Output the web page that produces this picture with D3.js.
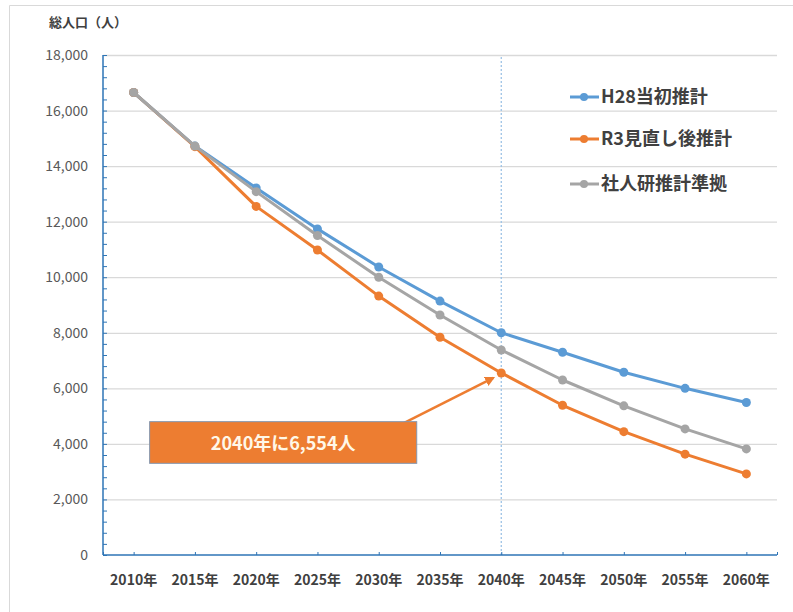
<!DOCTYPE html>
<html>
<head>
<meta charset="utf-8">
<script src="https://cdn.jsdelivr.net/npm/d3@7"></script>
<style>
  body { margin: 0; background: #fff; }
  svg { display: block; font-family: "Noto Sans CJK JP", "Noto Sans", sans-serif; }
</style>
</head>
<body>
<svg width="793" height="612"></svg>
<script>
var years = ['2010年','2015年','2020年','2025年','2030年','2035年','2040年','2045年','2050年','2055年','2060年'];
var h28 = [16650, 14720, 13210, 11740, 10370, 9140, 8000, 7300, 6580, 6000, 5490];
var r3 = [16650, 14700, 12550, 10980, 9320, 7840, 6554, 5390, 4440, 3630, 2920];
var ipss = [16650, 14720, 13080, 11500, 10000, 8640, 7380, 6300, 5370, 4540, 3820];
var yTicks = [0, 2000, 4000, 6000, 8000, 10000, 12000, 14000, 16000, 18000];
var seriesNames = ['H28当初推計', 'R3見直し後推計', '社人研推計準拠'];
var seriesColors = ['#5B9BD5', '#ED7D31', '#A5A5A5'];

var series = [h28, r3, ipss];

const plotL = 103, plotR = 777, plotT = 55, plotB = 555;
const svg = d3.select('svg');

// outer frame (top and left edges visible)
svg.append('path')
  .attr('d', 'M9.5,612 L9.5,5.5 L793,5.5')
  .attr('fill', 'none')
  .attr('stroke', '#d9d9d9');

const xScale = d3.scaleBand()
  .range([plotL, plotR])
  .domain(years);
const xPos = (d) => xScale(d) + xScale.bandwidth() / 2;

const yScale = d3.scaleLinear()
  .range([plotB, plotT])
  .domain([0, 18000]);

// grid
svg.append('g')
  .attr('transform', `translate(${plotL}, 0)`)
  .call(d3.axisLeft(yScale).tickValues(yTicks.slice(1)).tickSize(-(plotR - plotL)).tickFormat(''))
  .call(g => g.select('.domain').remove())
  .selectAll('line').attr('stroke', '#d9d9d9').attr('stroke-width', 1.3);

// dotted line at 2040
svg.append('line')
  .attr('x1', xPos('2040年')).attr('x2', xPos('2040年'))
  .attr('y1', yScale(18000) + 2).attr('y2', plotB)
  .attr('stroke', '#9DC3E6')
  .attr('stroke-width', 1.3)
  .attr('stroke-dasharray', '2,2');

// y axis
const yAxis = svg.append('g')
  .attr('transform', `translate(${plotL}, 0)`)
  .call(d3.axisRight(yScale).tickValues(d3.range(0, 18001, 400)).tickSize(4).tickFormat(''));
yAxis.select('.domain').attr('stroke', '#2E75B6').attr('stroke-width', 1.5).attr('d', `M0,${plotT}V${plotB}`);
yAxis.selectAll('line').attr('stroke', '#2E75B6');

svg.append('g')
  .selectAll('text')
  .data(yTicks)
  .enter()
  .append('text')
  .attr('x', 88)
  .attr('y', (d) => yScale(d) + 5)
  .attr('text-anchor', 'end')
  .attr('font-size', 14)
  .attr('fill', '#595959')
  .text((d) => d3.format(',')(d));

// x axis
const xAxis = svg.append('g')
  .attr('transform', `translate(0, ${plotB})`)
  .call(d3.axisTop(d3.scalePoint().range([plotL, plotR]).domain(d3.range(23))).tickSize(3).tickFormat(''));
xAxis.selectAll('.tick').filter((d) => d % 2 === 0 && d !== 0 && d !== 22).remove();
xAxis.select('.domain').attr('stroke', '#2E75B6').attr('stroke-width', 1.5).attr('d', `M${plotL},0H${plotR}`);
xAxis.selectAll('line').attr('stroke', '#2E75B6');

svg.append('g')
  .selectAll('text')
  .data(years)
  .enter()
  .append('text')
  .attr('x', (d) => xPos(d))
  .attr('y', 585)
  .attr('text-anchor', 'middle')
  .attr('font-size', 14)
  .attr('font-weight', 'bold')
  .attr('fill', '#404040')
  .text((d) => d);

// lines
const line = d3.line()
  .x((d, i) => xPos(years[i]))
  .y((d) => yScale(d));

series.forEach(function(s, k) {
  svg.append('path')
    .datum(s)
    .attr('fill', 'none')
    .attr('stroke', seriesColors[k])
    .attr('stroke-width', 3)
    .attr('stroke-linejoin', 'round')
    .attr('d', line);
  svg.append('g')
    .selectAll('circle')
    .data(s)
    .enter()
    .append('circle')
    .attr('cx', (d, i) => xPos(years[i]))
    .attr('cy', (d) => yScale(d))
    .attr('r', 4.5)
    .attr('fill', seriesColors[k]);
});

// legend
const legend = svg.append('g');
seriesNames.forEach(function(name, k) {
  const ly = [97, 139, 184][k];
  legend.append('line')
    .attr('x1', 570).attr('x2', 599)
    .attr('y1', ly).attr('y2', ly)
    .attr('stroke', seriesColors[k]).attr('stroke-width', 3);
  legend.append('circle')
    .attr('cx', 584).attr('cy', ly).attr('r', 4)
    .attr('fill', seriesColors[k]);
  legend.append('text')
    .attr('x', 601).attr('y', ly + 6)
    .attr('font-size', 18)
    .attr('font-weight', 'bold')
    .attr('fill', '#404040')
    .text(name);
});

// title
svg.append('text')
  .attr('x', 49).attr('y', 27)
  .attr('font-size', 13)
  .attr('font-weight', 'bold')
  .attr('fill', '#404040')
  .text('総人口（人）');

// annotation
const boxL = xPos('2010年') + 16, boxR = xPos('2030年') + 38;
const boxT = yScale(4800), boxB = yScale(3300);
const tipX = xPos('2040年') - 8, tipY = yScale(6554) + 5;

svg.append('defs').append('marker')
  .attr('id', 'arrow')
  .attr('viewBox', '0 0 10 10')
  .attr('refX', 8).attr('refY', 5)
  .attr('markerWidth', 4).attr('markerHeight', 4)
  .attr('orient', 'auto')
  .append('path')
  .attr('d', 'M0,0 L10,5 L0,10 Z')
  .attr('fill', '#ED7D31');

svg.append('line')
  .attr('x1', boxR - 14).attr('y1', boxT + 2)
  .attr('x2', tipX).attr('y2', tipY)
  .attr('stroke', '#ED7D31')
  .attr('stroke-width', 2.5)
  .attr('marker-end', 'url(#arrow)');

svg.append('rect')
  .attr('x', boxL).attr('y', boxT)
  .attr('width', boxR - boxL).attr('height', boxB - boxT)
  .attr('fill', '#ED7D31')
  .attr('stroke', '#8497B0')
  .attr('stroke-width', 1);

svg.append('text')
  .attr('x', (boxL + boxR) / 2).attr('y', (boxT + boxB) / 2 + 7)
  .attr('text-anchor', 'middle')
  .attr('font-size', 18)
  .attr('font-weight', 'bold')
  .attr('fill', '#FFF8E8')
  .text('2040年に6,554人');
</script>
</body>
</html>
